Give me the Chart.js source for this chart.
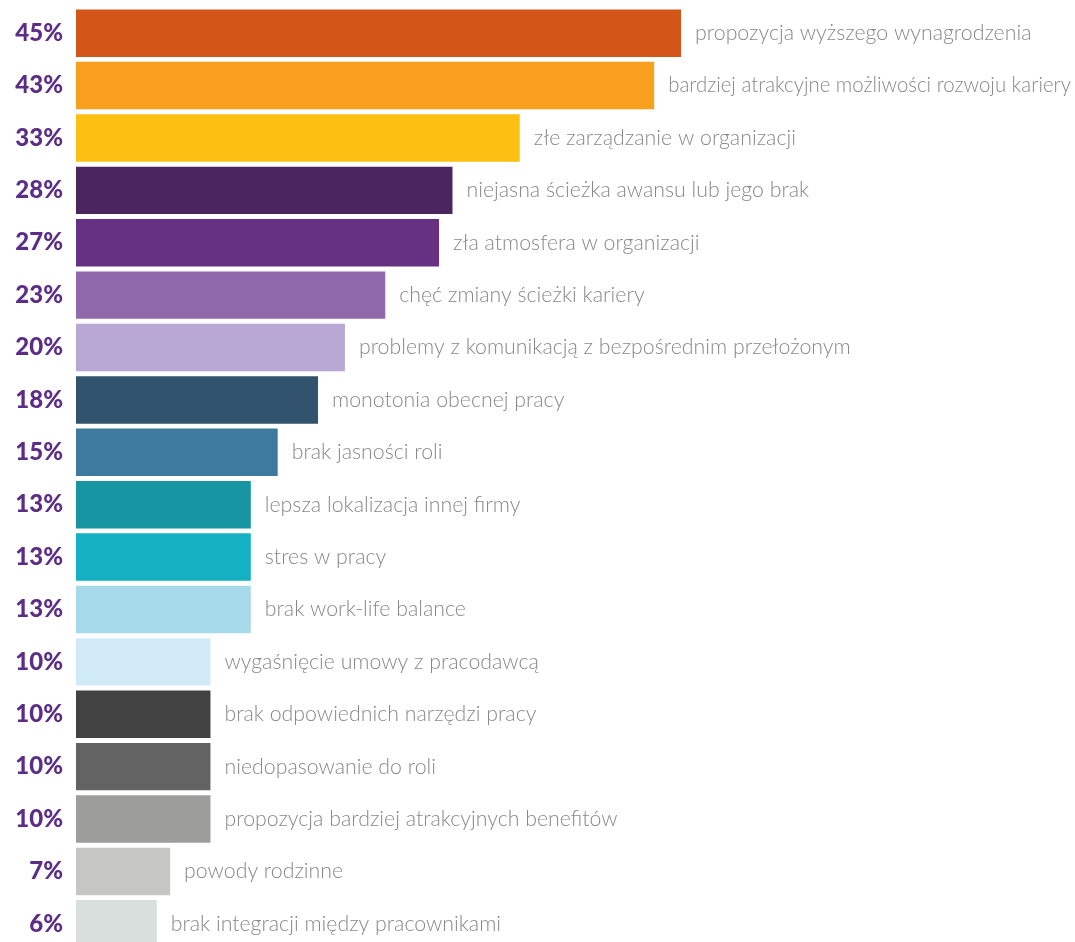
<!DOCTYPE html>
<html lang="pl">
<head>
<meta charset="utf-8">
<title>Powody zmiany pracy</title>
<script src="https://cdn.jsdelivr.net/npm/chart.js@4/dist/chart.umd.min.js"></script>
<style>
  html, body { margin: 0; padding: 0; background: #fff; overflow: hidden; }
  #chart { display: block; }
</style>
</head>
<body>
<canvas id="chart" width="1075" height="950"></canvas>
<script>
const reasons = [
  'propozycja wyższego wynagrodzenia',
  'bardziej atrakcyjne możliwości rozwoju kariery',
  'złe zarządzanie w organizacji',
  'niejasna ścieżka awansu lub jego brak',
  'zła atmosfera w organizacji',
  'chęć zmiany ścieżki kariery',
  'problemy z komunikacją z bezpośrednim przełożonym',
  'monotonia obecnej pracy',
  'brak jasności roli',
  'lepsza lokalizacja innej firmy',
  'stres w pracy',
  'brak work-life balance',
  'wygaśnięcie umowy z pracodawcą',
  'brak odpowiednich narzędzi pracy',
  'niedopasowanie do roli',
  'propozycja bardziej atrakcyjnych benefitów',
  'powody rodzinne',
  'brak integracji między pracownikami'
];
const shares = [45, 43, 33, 28, 27, 23, 20, 18, 15, 13, 13, 13, 10, 10, 10, 10, 7, 6];
const barColors = [
  '#d35618', '#f99f1e', '#fdbf11', '#4a255f', '#673183', '#8f69ab',
  '#b9a7d3', '#31536d', '#3d7a9d', '#1795a3', '#13b1c1', '#a6d9e9',
  '#d0eaf8', '#424242', '#636363', '#9d9d9c', '#c6c6c5', '#d9dfdc'
];

// percentages on the left, reason text after each bar
const sideLabels = {
  id: 'sideLabels',
  afterDatasetsDraw(chart) {
    const ctx = chart.ctx;
    const meta = chart.getDatasetMeta(0);
    ctx.save();
    ctx.textBaseline = 'middle';
    meta.data.forEach((bar, i) => {
      ctx.font = '900 24px Lato';
      ctx.fillStyle = '#5c2d87';
      ctx.textAlign = 'right';
      ctx.fillText(shares[i] + '%', 63, bar.y);
      ctx.font = '300 21.3px Lato';
      ctx.fillStyle = '#888888';
      ctx.textAlign = 'left';
      const x = bar.x + 14;
      // long labels get squeezed so they stay inside the canvas
      ctx.fillText(reasons[i], x, bar.y, chart.width - x - 4);
    });
    ctx.restore();
  }
};

new Chart(document.getElementById('chart').getContext('2d'), {
  type: 'bar',
  data: {
    labels: reasons,
    datasets: [{
      data: shares,
      backgroundColor: barColors,
      borderWidth: 0,
      barPercentage: 0.906,
      categoryPercentage: 1
    }]
  },
  options: {
    indexAxis: 'y',
    responsive: false,
    animation: false,
    layout: { padding: { left: 76, right: 4, top: 7, bottom: 0 } },
    plugins: { legend: { display: false }, tooltip: { enabled: false } },
    scales: {
      x: { min: 0, max: 74, display: false },
      y: { display: false }
    }
  },
  plugins: [sideLabels]
});
</script>
</body>
</html>
